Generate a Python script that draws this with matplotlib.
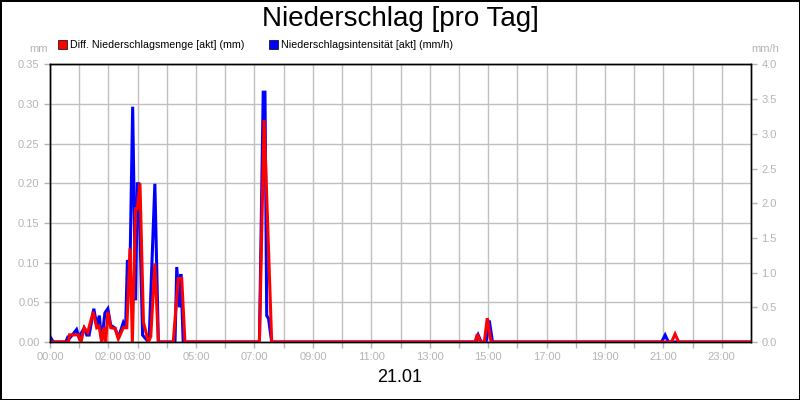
import matplotlib.pyplot as plt
from matplotlib.patches import Patch

plt.rcParams['font.family'] = ['Liberation Sans', 'DejaVu Sans']

# Diff. Niederschlagsmenge (mm) - time in hours of the day
red_t = [0.00, 0.63, 0.67, 0.97, 1.06, 1.17, 1.29, 1.48, 1.60, 1.68, 1.77, 1.85, 1.91,
         1.98, 2.08, 2.23, 2.34, 2.51, 2.63, 2.74, 2.82, 2.93, 2.99, 3.08, 3.20, 3.37,
         3.45, 3.59, 3.71, 4.22, 4.39, 4.51, 4.62, 7.17, 7.33, 7.59, 14.55, 14.63, 14.73,
         14.87, 14.97, 15.10, 21.28, 21.40, 21.52, 24.00]
red_v = [0.0, 0.0, 0.009, 0.009, 0.0, 0.018, 0.012, 0.038, 0.018, 0.020, 0.0, 0.018, 0.0,
         0.038, 0.018, 0.017, 0.004, 0.018, 0.018, 0.118, 0.0, 0.168, 0.168, 0.200, 0.025, 0.0,
         0.007, 0.099, 0.0, 0.0, 0.080, 0.080, 0.0, 0.0, 0.280, 0.0, 0.0, 0.010, 0.0,
         0.0, 0.030, 0.0, 0.0, 0.010, 0.0, 0.0]

# Niederschlagsintensitaet (mm/h)
blue_t = [0.00, 0.11, 0.54, 0.61, 0.68, 0.80, 0.91, 0.99, 1.17, 1.26, 1.34, 1.50, 1.60,
          1.69, 1.77, 1.88, 1.98, 2.08, 2.23, 2.34, 2.51, 2.59, 2.65, 2.74, 2.83, 2.93,
          2.99, 3.04, 3.17, 3.31, 3.40, 3.59, 3.71, 4.28, 4.34, 4.43, 4.48, 4.56, 7.17,
          7.30, 7.36, 7.42, 7.48, 7.59, 14.58, 14.66, 14.76, 14.93, 15.04, 15.15, 20.94,
          21.06, 21.17, 24.00]
blue_v = [0.08, 0.0, 0.0, 0.07, 0.06, 0.12, 0.18, 0.07, 0.20, 0.10, 0.10, 0.48, 0.24,
          0.38, 0.0, 0.42, 0.48, 0.24, 0.20, 0.06, 0.28, 0.21, 1.18, 1.10, 3.39, 0.60,
          2.28, 2.28, 0.10, 0.03, 0.10, 2.28, 0.0, 0.0, 1.08, 0.50, 0.98, 0.0, 0.0,
          3.60, 3.60, 0.38, 0.34, 0.0, 0.0, 0.10, 0.0, 0.0, 0.31, 0.0, 0.0,
          0.10, 0.0, 0.0]

hours = list(range(24))
labelled = [0, 2, 3, 5, 7, 9, 11, 13, 15, 17, 19, 21, 23]
tick_labels = ['%02d:00' % h if h in labelled else '' for h in hours]
mm_ticks = [0.00, 0.05, 0.10, 0.15, 0.20, 0.25, 0.30, 0.35]
mmh_ticks = [0.0, 0.5, 1.0, 1.5, 2.0, 2.5, 3.0, 3.5, 4.0]

grey = '#b4b4b4'

fig = plt.figure(figsize=(8, 4), dpi=100)
fig.patch.set_edgecolor('black')
fig.patch.set_linewidth(2)
ax = fig.add_axes([0.0625, 0.145, 0.87625, 0.694])
ax2 = ax.twinx()

# blue on the twin axis, red drawn after it with the left axis scale
ax2.plot(blue_t, blue_v, color='#0000ff', lw=2.2, solid_joinstyle='miter')
ax2.plot(red_t, red_v, color='#ff0000', lw=2.2, transform=ax.transData,
         solid_joinstyle='miter')

ax.set_xlim(0, 24)
ax.set_ylim(0, 0.35)
ax2.set_ylim(0, 4.0)
ax.set_xticks(hours)
ax.set_xticklabels(tick_labels)
ax.set_yticks(mm_ticks)
ax.set_yticklabels(['%.2f' % v for v in mm_ticks])
ax2.set_yticks(mmh_ticks)
ax2.set_yticklabels(['%.1f' % v for v in mmh_ticks])

ax.grid(True, color='#c0c0c0', lw=1)
ax.set_axisbelow(True)
for a in (ax, ax2):
    a.tick_params(colors=grey, labelsize=8, length=4, width=1)
    for s in a.spines.values():
        s.set_color('black')
        s.set_linewidth(1)

ax.text(-0.003, 1.056, 'mm', transform=ax.transAxes, ha='right', va='center',
        fontsize=8, color=grey)
ax.text(1.02, 1.056, 'mm/h', transform=ax.transAxes, ha='center', va='center',
        fontsize=8, color=grey)

handles = [Patch(facecolor='#ff0000', edgecolor='black', lw=0.5),
           Patch(facecolor='#0000ff', edgecolor='black', lw=0.5)]
fig.legend(handles, ['Diff. Niederschlagsmenge [akt] (mm)',
                     'Niederschlagsintensität [akt] (mm/h)'],
           loc='center left', bbox_to_anchor=(0.073, 0.887), ncol=2, frameon=False,
           fontsize=7.7, handlelength=0.85, handleheight=0.85, handletextpad=0.25,
           columnspacing=2.3, borderpad=0, borderaxespad=0)

fig.text(0.5, 0.953, 'Niederschlag [pro Tag]', ha='center', va='center', fontsize=20)
fig.text(0.5, 0.055, '21.01', ha='center', va='center', fontsize=13)

fig.savefig('out.png', dpi=100)
